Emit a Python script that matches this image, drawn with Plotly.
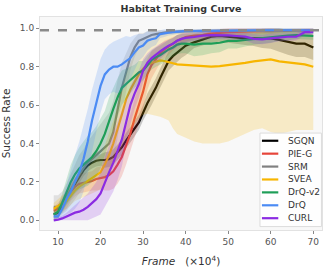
import plotly.graph_objects as go

# ---------------- data ----------------
frames = [9, 10, 11, 12, 13, 14, 15, 16, 17, 18, 19, 20, 21, 22, 23, 24, 25, 26, 27, 28,
          29, 30, 31, 32, 33, 34, 35, 36, 37, 38, 39, 40, 42, 44, 46, 48, 50, 52, 54, 56,
          58, 60, 62, 64, 66, 68, 70]

sgqn_mean = [0.03, 0.04, 0.08, 0.12, 0.155, 0.19, 0.225, 0.26, 0.285, 0.30, 0.31, 0.314, 0.314, 0.318, 0.33, 0.355,
             0.38, 0.415, 0.445, 0.475, 0.51, 0.56, 0.61, 0.65, 0.69, 0.74, 0.785, 0.83, 0.855, 0.875, 0.895, 0.91,
             0.927, 0.94, 0.956, 0.96, 0.955, 0.95, 0.948, 0.948, 0.948, 0.948, 0.94, 0.928, 0.92, 0.92, 0.90]
sgqn_spread = [0.03, 0.03, 0.03, 0.03, 0.03, 0.03, 0.03, 0.03, 0.03, 0.03, 0.03, 0.03, 0.04, 0.04, 0.04, 0.04,
               0.04, 0.04, 0.04, 0.04, 0.04, 0.04, 0.05, 0.05, 0.05, 0.05, 0.05, 0.05, 0.05, 0.05, 0.05, 0.05,
               0.03, 0.03, 0.03, 0.03, 0.03, 0.03, 0.035, 0.04, 0.05, 0.055, 0.06, 0.065, 0.07, 0.07, 0.065]

pieg_mean = [0.05, 0.06, 0.08, 0.11, 0.15, 0.175, 0.19, 0.195, 0.20, 0.205, 0.215, 0.22, 0.225, 0.235, 0.255, 0.29,
             0.33, 0.39, 0.45, 0.53, 0.60, 0.67, 0.76, 0.81, 0.84, 0.87, 0.89, 0.905, 0.92, 0.935, 0.945, 0.955,
             0.962, 0.965, 0.972, 0.977, 0.98, 0.982, 0.984, 0.985, 0.985, 0.985, 0.986, 0.987, 0.988, 0.989, 0.99]
pieg_spread = [0.02, 0.03, 0.04, 0.05, 0.05, 0.05, 0.05, 0.05, 0.05, 0.05, 0.06, 0.06, 0.07, 0.08, 0.09, 0.10,
               0.10, 0.10, 0.10, 0.10, 0.10, 0.09, 0.08, 0.07, 0.06, 0.05, 0.045, 0.04, 0.035, 0.03, 0.03, 0.025,
               0.02, 0.02, 0.02, 0.02, 0.02, 0.02, 0.015, 0.015, 0.015, 0.015, 0.01, 0.01, 0.01, 0.01, 0.01]

srm_mean = [0.07, 0.07, 0.09, 0.12, 0.16, 0.20, 0.24, 0.27, 0.30, 0.32, 0.34, 0.36, 0.38, 0.40, 0.46, 0.58,
            0.69, 0.77, 0.85, 0.90, 0.935, 0.945, 0.955, 0.965, 0.97, 0.975, 0.978, 0.98, 0.982, 0.984, 0.985, 0.985,
            0.986, 0.987, 0.987, 0.988, 0.988, 0.988, 0.988, 0.989, 0.989, 0.989, 0.99, 0.99, 0.99, 0.99, 0.99]
srm_spread = [0.06, 0.06, 0.06, 0.07, 0.08, 0.09, 0.10, 0.10, 0.11, 0.12, 0.13, 0.14, 0.15, 0.16, 0.16, 0.15,
              0.13, 0.10, 0.07, 0.05, 0.04, 0.03, 0.03, 0.02, 0.02, 0.015, 0.01, 0.01, 0.01, 0.01, 0.01, 0.01,
              0.01, 0.01, 0.01, 0.01, 0.01, 0.01, 0.01, 0.01, 0.01, 0.01, 0.01, 0.01, 0.01, 0.01, 0.01]

svea_mean = [0.06, 0.075, 0.09, 0.10, 0.13, 0.155, 0.175, 0.19, 0.205, 0.22, 0.235, 0.25, 0.29, 0.34, 0.40, 0.47,
             0.55, 0.63, 0.68, 0.72, 0.76, 0.79, 0.81, 0.82, 0.828, 0.833, 0.83, 0.822, 0.818, 0.812, 0.81, 0.81,
             0.806, 0.803, 0.80, 0.803, 0.808, 0.815, 0.82, 0.828, 0.832, 0.838, 0.828, 0.822, 0.818, 0.812, 0.80]
svea_lower = [0.03, 0.04, 0.05, 0.06, 0.08, 0.10, 0.11, 0.12, 0.13, 0.14, 0.15, 0.16, 0.19, 0.23, 0.28, 0.33,
              0.38, 0.43, 0.47, 0.50, 0.53, 0.55, 0.555, 0.55, 0.545, 0.54, 0.53, 0.52, 0.48, 0.45, 0.44, 0.43,
              0.41, 0.40, 0.40, 0.40, 0.41, 0.43, 0.45, 0.47, 0.48, 0.46, 0.45, 0.46, 0.47, 0.47, 0.47]
svea_upper = [0.09, 0.11, 0.13, 0.14, 0.18, 0.21, 0.24, 0.26, 0.28, 0.30, 0.32, 0.34, 0.39, 0.45, 0.52, 0.60,
              0.68, 0.76, 0.82, 0.87, 0.90, 0.92, 0.94, 0.95, 0.96, 0.965, 0.97, 0.975, 0.978, 0.98, 0.98, 0.98,
              0.98, 0.982, 0.983, 0.984, 0.985, 0.985, 0.985, 0.985, 0.985, 0.985, 0.985, 0.985, 0.985, 0.985, 0.985]

drqv2_mean = [0.03, 0.045, 0.09, 0.15, 0.20, 0.24, 0.27, 0.29, 0.31, 0.33, 0.36, 0.40, 0.45, 0.52, 0.58, 0.64,
              0.69, 0.71, 0.73, 0.75, 0.77, 0.78, 0.81, 0.835, 0.85, 0.86, 0.875, 0.89, 0.90, 0.915, 0.92, 0.92,
              0.915, 0.92, 0.92, 0.925, 0.935, 0.935, 0.94, 0.945, 0.95, 0.955, 0.96, 0.962, 0.965, 0.962, 0.96]
drqv2_spread = [0.02, 0.03, 0.05, 0.07, 0.09, 0.10, 0.11, 0.12, 0.13, 0.13, 0.13, 0.13, 0.12, 0.12, 0.11, 0.10,
                0.09, 0.08, 0.07, 0.06, 0.06, 0.05, 0.05, 0.05, 0.05, 0.05, 0.05, 0.05, 0.05, 0.05, 0.05, 0.05,
                0.06, 0.06, 0.05, 0.05, 0.04, 0.04, 0.035, 0.03, 0.03, 0.03, 0.025, 0.025, 0.02, 0.02, 0.02]

drq_mean = [0.02, 0.02, 0.06, 0.11, 0.15, 0.20, 0.25, 0.32, 0.41, 0.52, 0.61, 0.70, 0.76, 0.785, 0.80, 0.80,
            0.812, 0.83, 0.845, 0.875, 0.90, 0.91, 0.935, 0.943, 0.948, 0.97, 0.975, 0.978, 0.98, 0.982, 0.983, 0.985,
            0.985, 0.986, 0.987, 0.988, 0.988, 0.988, 0.99, 0.99, 0.99, 0.99, 0.99, 0.99, 0.99, 0.99, 0.99]
drq_spread = [0.01, 0.02, 0.05, 0.08, 0.11, 0.14, 0.16, 0.17, 0.17, 0.16, 0.15, 0.14, 0.13, 0.13, 0.13, 0.14,
              0.14, 0.13, 0.11, 0.09, 0.07, 0.06, 0.05, 0.04, 0.035, 0.02, 0.02, 0.015, 0.015, 0.01, 0.01, 0.01,
              0.01, 0.01, 0.01, 0.01, 0.01, 0.01, 0.01, 0.01, 0.01, 0.01, 0.01, 0.01, 0.01, 0.01, 0.01]

curl_mean = [0.0, 0.003, 0.01, 0.02, 0.03, 0.04, 0.045, 0.055, 0.07, 0.09, 0.11, 0.14, 0.20, 0.25, 0.30, 0.36,
             0.42, 0.51, 0.60, 0.66, 0.71, 0.78, 0.82, 0.845, 0.865, 0.88, 0.895, 0.91, 0.92, 0.935, 0.945, 0.95,
             0.955, 0.962, 0.965, 0.965, 0.963, 0.96, 0.957, 0.945, 0.942, 0.948, 0.953, 0.956, 0.956, 0.98, 0.98]
curl_spread = [0.005, 0.01, 0.015, 0.02, 0.03, 0.04, 0.05, 0.06, 0.07, 0.08, 0.09, 0.11, 0.13, 0.14, 0.15, 0.15,
               0.14, 0.12, 0.10, 0.08, 0.07, 0.06, 0.05, 0.045, 0.04, 0.04, 0.035, 0.03, 0.03, 0.03, 0.025, 0.025,
               0.02, 0.02, 0.02, 0.02, 0.02, 0.02, 0.02, 0.025, 0.025, 0.025, 0.02, 0.02, 0.02, 0.015, 0.015]

method_names = ["SGQN", "PIE-G", "SRM", "SVEA", "DrQ-v2", "DrQ", "CURL"]
x_ticks = [10, 20, 30, 40, 50, 60, 70]
y_ticks = [0.0, 0.2, 0.4, 0.6, 0.8, 1.0]
ref_level = 0.99

# ---------------- styling ----------------
colors = {"SGQN": "#000000", "PIE-G": "#e6453a", "SRM": "#808080", "SVEA": "#f7b500",
          "DrQ-v2": "#1e9e57", "DrQ": "#4b8bf4", "CURL": "#8b2be2"}


def clip(v):
    return min(1.0, max(0.0, v))


def sym(mean, spread):
    return [clip(m - s) for m, s in zip(mean, spread)], [clip(m + s) for m, s in zip(mean, spread)]


series = {
    "SGQN": (sgqn_mean, *sym(sgqn_mean, sgqn_spread)),
    "PIE-G": (pieg_mean, *sym(pieg_mean, pieg_spread)),
    "SRM": (srm_mean, *sym(srm_mean, srm_spread)),
    "SVEA": (svea_mean, svea_lower, svea_upper),
    "DrQ-v2": (drqv2_mean, *sym(drqv2_mean, drqv2_spread)),
    "DrQ": (drq_mean, *sym(drq_mean, drq_spread)),
    "CURL": (curl_mean, *sym(curl_mean, curl_spread)),
}


def rgba(hex_color, a):
    h = hex_color.lstrip("#")
    return "rgba(%d,%d,%d,%.2f)" % (int(h[0:2], 16), int(h[2:4], 16), int(h[4:6], 16), a)


fig = go.Figure()
for name in method_names:
    mean, lo, hi = series[name]
    fig.add_trace(go.Scatter(x=frames + frames[::-1], y=hi + lo[::-1], fill="toself",
                             fillcolor=rgba(colors[name], 0.2), line=dict(width=0),
                             mode="lines", hoverinfo="skip", showlegend=False))
    fig.add_trace(go.Scatter(x=frames, y=mean, mode="lines", name=name,
                             line=dict(color=colors[name], width=2.2), showlegend=False))

fig.add_hline(y=ref_level, line=dict(color="#8a8a8a", width=2.5, dash="dash"))

font_family = "DejaVu Sans"
fig.update_layout(
    width=332, height=267,
    margin=dict(l=40, r=10, t=17, b=37),
    paper_bgcolor="white", plot_bgcolor="#f8f8f8",
    font=dict(family=font_family, size=9, color="#444"),
    title=dict(text="<b>Habitat Training Curve</b>", x=0.5, xref="paper", y=0.967, yref="container",
               yanchor="middle", font=dict(size=9.5, color="#333")),
)
fig.update_xaxes(range=[5.77, 72.05], tickvals=x_ticks, ticks="outside", ticklen=3, tickcolor="#888",
                 automargin=False,
                 showgrid=False, zeroline=False, showline=True, linecolor="#e2e2e2", mirror=True,
                 tickfont=dict(size=9, color="#555"),
                 title=dict(text="<i>Frame</i>   (×10<sup>4</sup>)", font=dict(size=10.5, color="#333")))
fig.update_yaxes(range=[-0.0505, 1.059], tickvals=y_ticks, tickformat=".1f", ticks="outside", ticklen=3,
                 automargin=False,
                 tickcolor="#888", showgrid=False, zeroline=False, showline=True, linecolor="#e2e2e2", mirror=True,
                 tickfont=dict(size=9, color="#555"),
                 title=dict(text="Success Rate", font=dict(size=10.5, color="#333")))

# ---------------- manual legend ----------------
leg_x0, leg_x1, leg_y0, leg_y1 = 0.780, 0.998, 0.016, 0.455
fig.add_shape(type="rect", xref="paper", yref="paper", x0=leg_x0, x1=leg_x1, y0=leg_y0, y1=leg_y1,
              line=dict(color="#dcdcdc", width=1), fillcolor="rgba(255,255,255,0.85)", layer="above")
row_top, row_step = 0.419, 0.0606
for i, name in enumerate(method_names):
    yy = row_top - i * row_step
    fig.add_shape(type="line", xref="paper", yref="paper", x0=0.787, x1=0.845, y0=yy, y1=yy,
                  line=dict(color=colors[name], width=2.2), layer="above")
    fig.add_annotation(xref="paper", yref="paper", x=0.872, y=yy, text=name, showarrow=False,
                       xanchor="left", yanchor="middle", font=dict(size=9, color="#333"))

fig.write_html("out.html", config={"displayModeBar": False},
               post_script="document.body.style.margin='0';document.body.style.overflow='hidden';")
